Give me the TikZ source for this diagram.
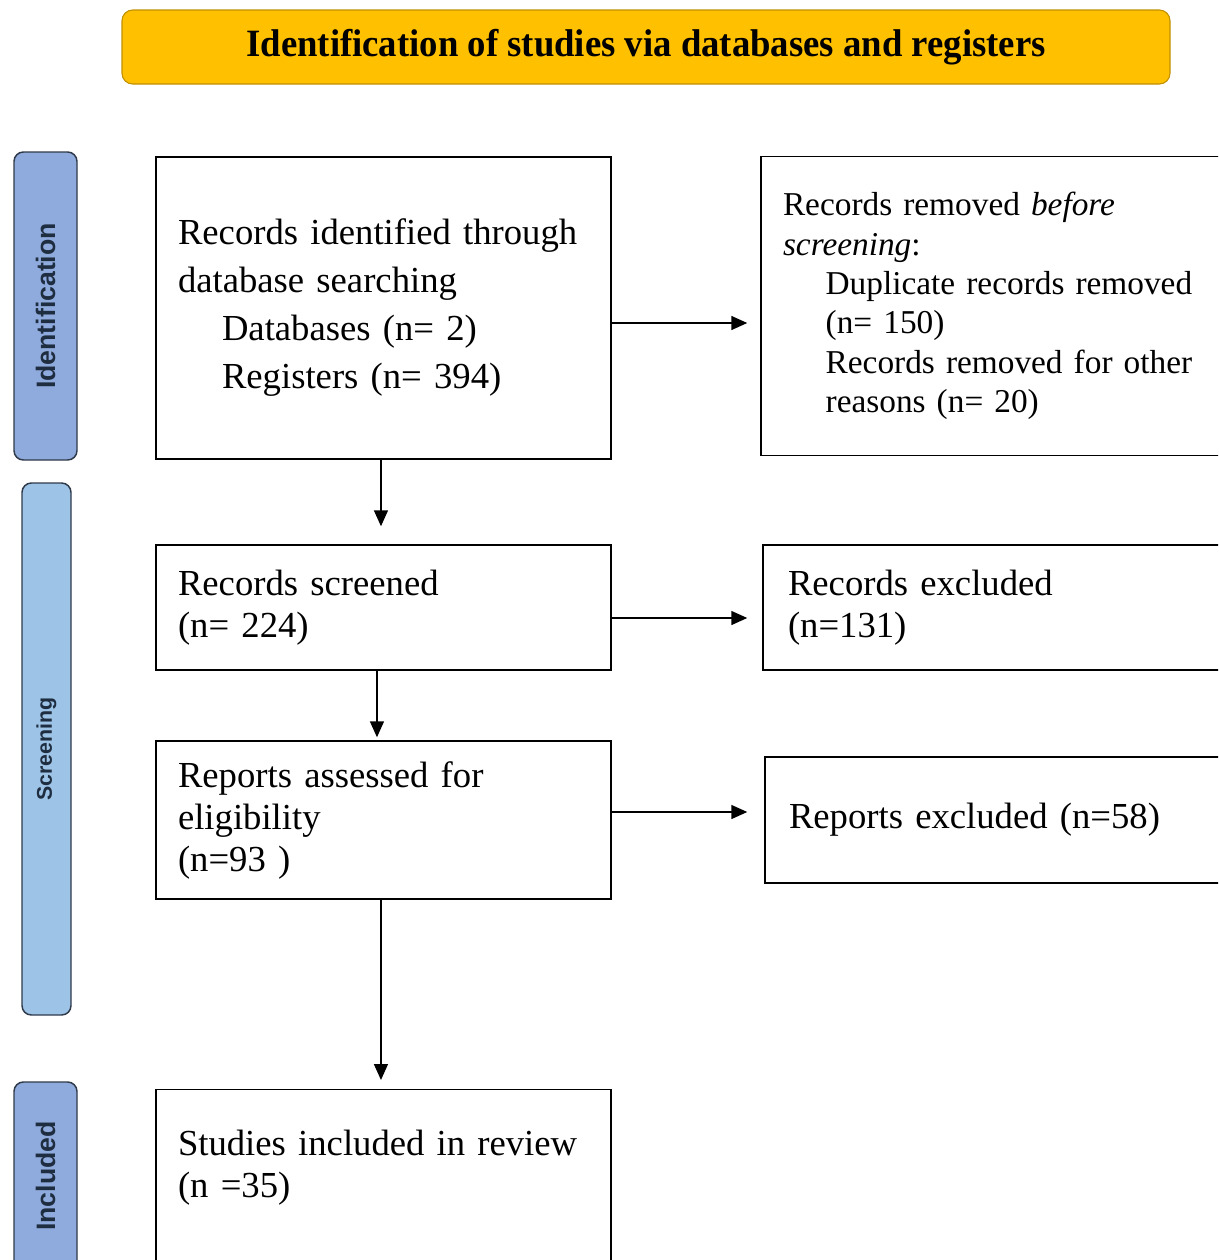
\documentclass[tikz,border=0pt]{standalone}
\usepackage{fontspec}
\setmainfont{Liberation Serif}
\newfontfamily\sidefont{Liberation Sans}
\usepackage{tikz}
\usetikzlibrary{arrows.meta}
\definecolor{bannergold}{RGB}{255,192,0}
\definecolor{bannerline}{RGB}{191,144,0}
\definecolor{sideblue}{RGB}{143,170,220}
\definecolor{sidelight}{RGB}{157,195,230}
\definecolor{sideline}{RGB}{47,58,74}
\definecolor{sidetext}{RGB}{31,45,64}

\begin{document}
\begin{tikzpicture}[x=0.75pt,y=0.75pt,yscale=-1,xscale=1,
  box/.style={draw, line width=1.1pt, align=left, inner xsep=16.5pt, font=\fontsize{27.5}{31.5}\selectfont},
  side/.style={draw=sideline, line width=1.1pt, rounded corners=7pt, rotate=90, text=sidetext},
  arr/.style={line width=1.1pt, -{Triangle[length=12pt,width=10.5pt]}}]
\useasboundingbox (0,0) rectangle (1218,1260);
\clip (0,0) rectangle (1218,1260);

%Shape: Banner
\node [draw=bannerline, fill=bannergold, line width=0.8pt, rounded corners=8pt, minimum width=786pt, minimum height=55.5pt] (banner) at (646,47) {\raisebox{-2pt}{\scalebox{0.95}[1]{\fontsize{29}{34}\selectfont\bfseries Identification of studies via databases and registers}}};

%Shape: Side labels
\node [side, fill=sideblue, minimum width=231pt, minimum height=47.25pt, font=\sidefont\bfseries\fontsize{20}{24}\selectfont] (sideid) at (45.5,306) {Identification};
\node [side, fill=sidelight, minimum width=399pt, minimum height=36.75pt, font=\sidefont\bfseries\fontsize{16}{20}\selectfont] (sidescr) at (46.5,749) {Screening};
\node [side, fill=sideblue, minimum width=141pt, minimum height=47.25pt, font=\sidefont\bfseries\fontsize{20}{24}\selectfont] (sideinc) at (45.5,1176) {Included};

%Shape: Left column
\node [box, text width=308.25pt, minimum height=226.5pt, font=\fontsize{27.5}{36}\selectfont] (recid) at (383.5,308) {Records identified through\\
database searching\\
\hspace*{33pt}Databases (n= 2)\\
\hspace*{33pt}Registers (n= 394)};
\node [box, text width=308.25pt, minimum height=93.75pt] (screen) at (383.5,607.5) {Records screened\\ (n= 224)};
\node [box, text width=308.25pt, minimum height=118.5pt] (assess) at (383.5,820) {Reports assessed for\\ eligibility\\ (n=93 )};
\node [box, anchor=north, text width=308.25pt, inner ysep=20pt, text height=29pt, text depth=100pt] (incl) at (383.5,1089) {Studies included in review\\ (n =35)};

%Shape: Right column
\node [box, text width=315pt, minimum height=224.25pt, font=\fontsize{25}{29.5}\selectfont] (removed) at (993,306) {Records removed \textit{before}\\
\textit{screening}:\\
\hspace*{32pt}Duplicate records removed\\
\hspace*{32pt}(n= 150)\\
\hspace*{32pt}Records removed for other\\
\hspace*{32pt}reasons (n= 20)};
\node [box, inner xsep=18.75pt, text width=309pt, minimum height=93.75pt] (excl) at (994,607.5) {Records excluded\\ (n=131)};
\node [box, inner xsep=18pt, text width=309pt, minimum height=94.5pt] (repexcl) at (995,820) {Reports excluded (n=58)};

%Straight Lines
\draw [arr, shorten >=9.75pt] (recid.east) ++(0,15) coordinate (a1) -- (a1 -| removed.west);
\draw [arr, shorten >=11.25pt] (screen.east) ++(0,10.5) coordinate (a2) -- (a2 -| excl.west);
\draw [arr, shorten >=12.75pt] (assess.east) ++(0,-8) coordinate (a3) -- (a3 -| repexcl.west);
\draw [arr, shorten >=13.5pt] ([xshift=-1.9pt]recid.south) -- ([xshift=-1.9pt]screen.north);
\draw [arr, shorten >=2.25pt] ([xshift=-4.9pt]screen.south) -- ([xshift=-4.9pt]assess.north);
\draw [arr, shorten >=6.75pt] ([xshift=-1.9pt]assess.south) -- ([xshift=-1.9pt]incl.north);

\end{tikzpicture}
\end{document}
